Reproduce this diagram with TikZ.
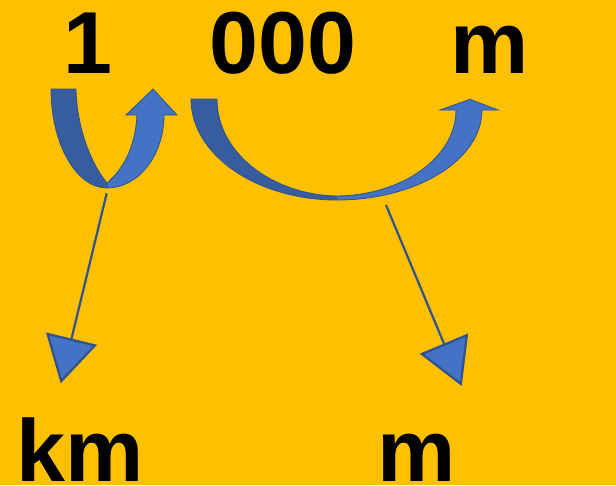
\documentclass[tikz,border=0pt]{standalone}
\usepackage{fontspec}
\setmainfont{Liberation Sans}
\usetikzlibrary{arrows.meta}
\definecolor{bg}{HTML}{FFC000}
\definecolor{front}{HTML}{4472C4}
\definecolor{back}{HTML}{385D9E}
\definecolor{edge}{HTML}{2F528F}
\begin{document}
\begin{tikzpicture}[x=1pt,y=-1pt,
  big/.style={font=\fontsize{88}{100}\selectfont\bfseries, inner sep=0pt, anchor=base west},
  ribbonfront/.style={fill=front, draw=edge, line width=0.8pt, line join=miter},
  ribbonback/.style={fill=back, draw=edge, line width=0.8pt},
  pointer/.style={draw=edge, line width=2.2pt, -{Triangle[width=52pt,length=46pt,fill=front]}}]
\fill[bg] (0,0) rectangle (616,485);
\useasboundingbox (0,0) rectangle (616,485);
% texts
\node[big] (one) at (63,73) {1};
\node[big] (zeros) at (209.5,73) {000};
\node[big] (mtop) at (450,73) {m};
\node[big] (km) at (16,481) {km};
\node[big] (mbot) at (377,481) {m};
% left curved arrow
\path[ribbonback] (51,89) .. controls (51,143.7) and (76.1,188) .. (107,188)
  -- (107,183) .. controls (92,165) and (77,130) .. (76,89) -- cycle;
\path[ribbonfront] (107,188) .. controls (138.5,188) and (164,155.3) .. (164,115)
  -- (177,115) -- (153,89) -- (126,115) -- (137,115)
  .. controls (135,150) and (122,170) .. (107,183) -- cycle;
% right curved arrow
\path[ribbonback] (191,99) .. controls (191,154.8) and (256.4,200) .. (337,200)
  -- (335,196) .. controls (272,194) and (217,153) .. (217,99) -- cycle;
\path[ribbonfront] (337,200) .. controls (417,200) and (482,159.7) .. (482,110)
  -- (498,110) -- (470,99.3) -- (440,110) -- (456,110)
  .. controls (456,157.5) and (401.8,196) .. (335,196) -- cycle;
% straight pointers
\coordinate (s1) at (106.7,193.3);
\coordinate (t1) at (60.7,383.3);
\coordinate (s2) at (386,205);
\coordinate (t2) at (461.7,386);
\draw[pointer] (s1) -- (t1);
\draw[pointer] (s2) -- (t2);
\end{tikzpicture}
\end{document}
